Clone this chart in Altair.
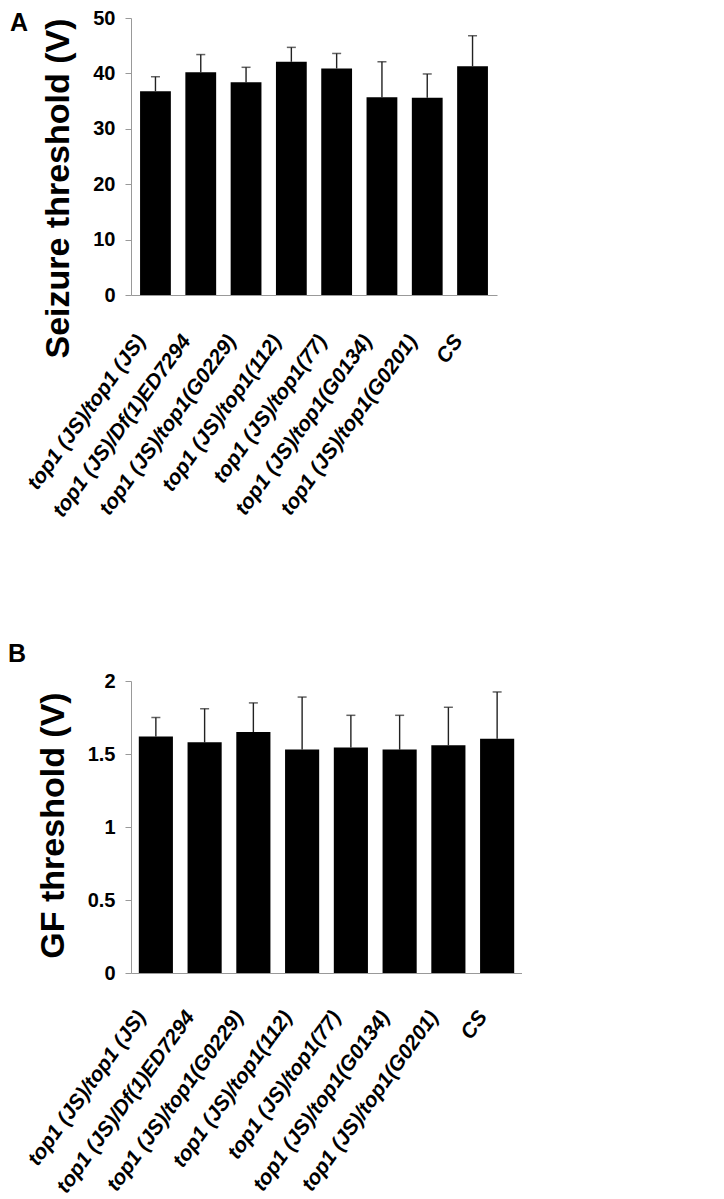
import altair as alt
import pandas as pd

genotypes = ["top1 (JS)/top1 (JS)", "top1 (JS)/Df(1)ED7294", "top1 (JS)/top1(G0229)",
             "top1 (JS)/top1(112)", "top1 (JS)/top1(77)", "top1 (JS)/top1(G0134)",
             "top1 (JS)/top1(G0201)", "CS"]

seizure_mean = [36.8, 40.2, 38.4, 42.1, 40.9, 35.7, 35.6, 41.3]
seizure_sem = [2.6, 3.2, 2.7, 2.6, 2.7, 6.4, 4.3, 5.5]

gf_mean = [1.62, 1.58, 1.65, 1.53, 1.545, 1.53, 1.56, 1.605]
gf_sem = [0.13, 0.23, 0.20, 0.36, 0.22, 0.235, 0.26, 0.32]

seizure_ticks = [0, 10, 20, 30, 40, 50]
gf_ticks = [0, 0.5, 1, 1.5, 2]

FONT = "Liberation Sans"


def panel(means, sems, letter, ytitle, ydomain, yticks, width, height,
          extent, title_pad, title_y, letter_x, letter_y, pin, pout, label_pad):
    df = pd.DataFrame({"genotype": genotypes, "mean": means,
                       "top": [m + s for m, s in zip(means, sems)]})
    x = alt.X("genotype:N", sort=genotypes, title=None,
              scale=alt.Scale(paddingInner=pin, paddingOuter=pout),
              axis=alt.Axis(labelAngle=-54, labelAlign="right", labelBaseline="middle",
                            labelPadding=label_pad, ticks=False, tickSize=0,
                            labelFont=FONT, labelFontSize=21, labelFontWeight="bold",
                            labelFontStyle="italic", labelColor="black",
                            domainColor="#999999", domainWidth=1, labelLimit=400,
                            labelOffset=-14))
    y = alt.Y("mean:Q", title=ytitle,
              scale=alt.Scale(domain=ydomain, nice=False, zero=True),
              axis=alt.Axis(values=yticks, format="~f", grid=False,
                            tickSize=6, tickColor="#999999", domainColor="#999999",
                            labelPadding=10, labelFont=FONT, labelFontSize=20,
                            labelFontWeight="bold", labelColor="black",
                            minExtent=extent, maxExtent=extent,
                            titleFont=FONT, titleFontSize=34, titleFontWeight="bold",
                            titleColor="black", titlePadding=title_pad, titleY=title_y))
    base = alt.Chart(df)
    bars = base.mark_bar(color="black").encode(x=x, y=y)
    err = base.mark_rule(color="#222222", strokeWidth=1.4).encode(
        x=alt.X("genotype:N", sort=genotypes), y="mean:Q", y2="top:Q")
    cap = base.mark_tick(color="#222222", thickness=1.5, size=9, orient="horizontal").encode(
        x=alt.X("genotype:N", sort=genotypes), y=alt.Y("top:Q"))
    lab = alt.Chart(pd.DataFrame({"letter": [letter]})).mark_text(
        font=FONT, fontSize=25, fontWeight="bold", color="black",
        align="left", baseline="alphabetic").encode(
        text="letter:N", x=alt.value(letter_x), y=alt.value(letter_y))
    return alt.layer(err, bars, cap, lab).properties(width=width, height=height)


chart_a = panel(seizure_mean, seizure_sem, "A", "Seizure threshold (V)", [0, 50], seizure_ticks,
                366, 277, 40, 16, 170, -121, 13, 0.32, 0.2, 42)
chart_b = panel(gf_mean, gf_sem, "B", "GF threshold (V)", [0, 2], gf_ticks,
                391, 292, 44, 17, 144, -123, -19, 0.3, 0.16, 40)

chart = alt.vconcat(chart_a, chart_b, spacing=121).properties(padding=0).configure_view(
    stroke=None)

chart.save("out.html", embed_options={"renderer": "svg", "actions": False})
